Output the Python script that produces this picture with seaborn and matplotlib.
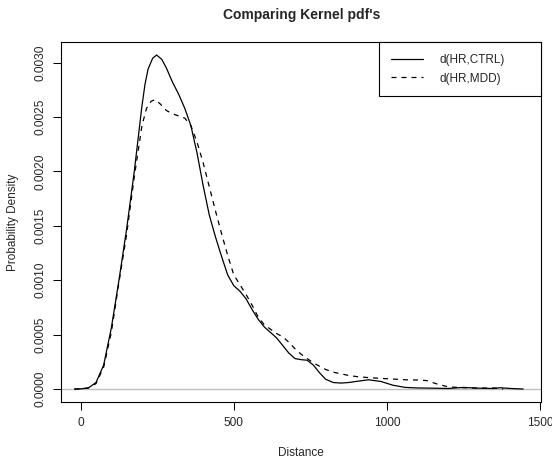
import matplotlib
matplotlib.use("Agg")
import matplotlib.pyplot as plt
import seaborn as sns
import pandas as pd

# ---- data ----
ctrl_x = [-20, 0, 25, 50, 75, 100, 125, 150, 175, 190, 200, 210, 220, 235, 248, 265,
          280, 300, 320, 340, 360, 380, 400, 420, 440, 460, 480, 500, 520, 540, 560,
          580, 600, 620, 640, 660, 680, 700, 720, 740, 760, 780, 800, 825, 850, 875,
          900, 940, 980, 1020, 1060, 1100, 1150, 1200, 1250, 1300, 1350, 1370, 1400,
          1445]
ctrl_y = [0.0, 0.002, 0.01, 0.06, 0.22, 0.56, 1.0, 1.47, 2.0, 2.36, 2.6, 2.8, 2.94,
          3.04, 3.07, 3.03, 2.95, 2.82, 2.71, 2.58, 2.42, 2.17, 1.87, 1.6, 1.40, 1.22,
          1.05, 0.95, 0.90, 0.83, 0.73, 0.64, 0.57, 0.52, 0.47, 0.40, 0.33, 0.28, 0.27,
          0.265, 0.22, 0.15, 0.09, 0.06, 0.055, 0.06, 0.07, 0.085, 0.07, 0.035, 0.015,
          0.01, 0.008, 0.005, 0.015, 0.008, 0.005, 0.012, 0.006, 0.0]

mdd_x = [-20, 0, 25, 50, 75, 100, 125, 150, 175, 200, 215, 230, 243, 260, 280, 300,
         320, 340, 360, 380, 400, 420, 440, 460, 480, 500, 520, 540, 560, 580, 600,
         620, 640, 660, 680, 700, 720, 740, 760, 780, 800, 825, 850, 875, 900, 940,
         980, 1020, 1060, 1100, 1130, 1160, 1200, 1250, 1300, 1350, 1380]
mdd_y = [0.0, 0.002, 0.01, 0.05, 0.2, 0.52, 0.98, 1.42, 1.95, 2.42, 2.58, 2.645, 2.66,
         2.62, 2.56, 2.53, 2.51, 2.49, 2.42, 2.27, 2.08, 1.86, 1.64, 1.43, 1.23, 1.05,
         0.96, 0.87, 0.77, 0.66, 0.59, 0.55, 0.51, 0.48, 0.43, 0.37, 0.32, 0.28, 0.24,
         0.21, 0.18, 0.155, 0.14, 0.125, 0.115, 0.105, 0.098, 0.092, 0.085, 0.083,
         0.078, 0.05, 0.02, 0.012, 0.008, 0.01, 0.0]

x_ticks = [0, 500, 1000, 1500]
y_ticks = [0.0, 0.0005, 0.0010, 0.0015, 0.0020, 0.0025, 0.0030]
y_tick_labels = ["0.0000", "0.0005", "0.0010", "0.0015", "0.0020", "0.0025", "0.0030"]
labels = ["d(HR,CTRL)", "d(HR,MDD)"]

df_ctrl = pd.DataFrame({"x": ctrl_x, "y": [v * 1e-3 for v in ctrl_y]})
df_mdd = pd.DataFrame({"x": mdd_x, "y": [v * 1e-3 for v in mdd_y]})

sns.set_style("white")
plt.rcParams["font.family"] = ["Liberation Sans", "DejaVu Sans"]

fig = plt.figure(figsize=(5.52, 4.59), dpi=100)
ax = fig.add_axes([0.111, 0.1242, 0.8696, 0.7836])

ax.axhline(0, color="#BEBEBE", lw=1.0, zorder=1)
sns.lineplot(data=df_ctrl, x="x", y="y", ax=ax, color="black", lw=0.9,
             label=labels[0], zorder=3, sort=False)
sns.lineplot(data=df_mdd, x="x", y="y", ax=ax, color="black", lw=0.9,
             label=labels[1], zorder=2, sort=False)
ax.lines[-1].set_dashes((4, 4))

ax.set_xlim(-63.4, 1504.4)
ax.set_ylim(-0.000119, 0.003187)
ax.set_xticks(x_ticks)
ax.set_xticklabels([str(t) for t in x_ticks])
ax.set_yticks(y_ticks)
ax.set_yticklabels(y_tick_labels, rotation=90, va="center")

ax.tick_params(axis="both", direction="out", length=5.5, width=0.75,
               color="black", labelsize=8.6, pad=5, bottom=True, left=True)
for s in ax.spines.values():
    s.set_color("black")
    s.set_linewidth(0.8)

ax.set_xlabel("Distance", fontsize=8.5, labelpad=13)
ax.set_ylabel("Probability Density", fontsize=8.5, labelpad=11)
ax.set_title("Comparing Kernel pdf's", fontsize=10, fontweight="bold", pad=17)

leg = ax.legend(loc="upper left", bbox_to_anchor=(0.662, 0.852, 0.338, 0.148),
                mode="expand", borderaxespad=0, fancybox=False, framealpha=1,
                edgecolor="black", fontsize=8.5, handlelength=2.75,
                handletextpad=1.4, borderpad=1.0, labelspacing=0.55)
leg.get_frame().set_linewidth(0.8)
for h in leg.get_lines():
    h.set_linewidth(0.9)
leg.get_lines()[1].set_dashes((4, 4))

fig.savefig("out.png", dpi=100)
